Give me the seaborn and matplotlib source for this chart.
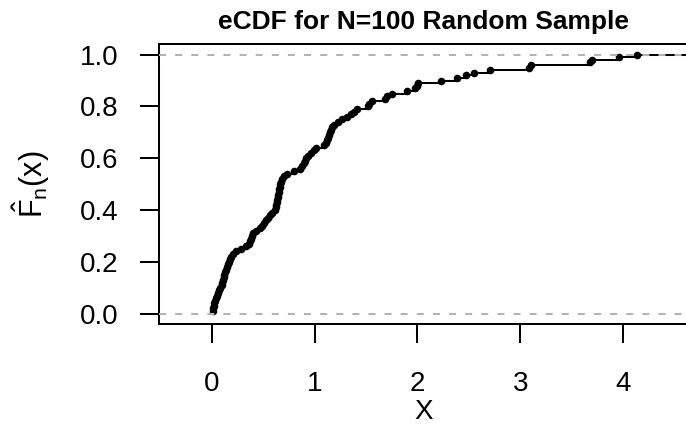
import numpy as np
import pandas as pd
import matplotlib
matplotlib.use("Agg")
import matplotlib.pyplot as plt
import seaborn as sns

# sorted sample values (N = 100)
sample = [
    0.01, 0.015, 0.02, 0.025, 0.035, 0.045, 0.05, 0.06, 0.07, 0.08,
    0.095, 0.10, 0.11, 0.115, 0.12, 0.13, 0.14, 0.15, 0.16, 0.17,
    0.18, 0.19, 0.21, 0.24, 0.28, 0.33, 0.36, 0.37, 0.38, 0.39,
    0.40, 0.43, 0.47, 0.49, 0.51, 0.53, 0.55, 0.57, 0.59, 0.61,
    0.62, 0.625, 0.63, 0.635, 0.64, 0.645, 0.65, 0.655, 0.66, 0.665,
    0.67, 0.68, 0.70, 0.73, 0.80, 0.86, 0.88, 0.90, 0.91, 0.92,
    0.94, 0.96, 0.99, 1.01, 1.09, 1.11, 1.12, 1.13, 1.14, 1.15,
    1.16, 1.17, 1.19, 1.23, 1.27, 1.31, 1.35, 1.38, 1.41, 1.52,
    1.53, 1.56, 1.68, 1.70, 1.75, 1.90, 1.98, 2.00, 2.01, 2.23,
    2.38, 2.47, 2.55, 2.71, 3.08, 3.10, 3.68, 3.70, 3.96, 4.13,
]
x_ticks = [0, 1, 2, 3, 4]
y_ticks = [0.0, 0.2, 0.4, 0.6, 0.8, 1.0]
x_limits = (-0.513, 4.64)
y_limits = (-0.04, 1.04)

sns.set_style("white")
plt.rcParams['font.family'] = ['Liberation Sans', 'DejaVu Sans']
plt.rcParams['text.color'] = 'black'
plt.rcParams['axes.labelcolor'] = 'black'
plt.rcParams['xtick.color'] = 'black'
plt.rcParams['ytick.color'] = 'black'
plt.rcParams['mathtext.fontset'] = 'custom'
plt.rcParams['mathtext.rm'] = 'Liberation Sans'
plt.rcParams['mathtext.it'] = 'Liberation Sans'

df = pd.DataFrame({'x': sample})
df['F'] = np.arange(1, len(df) + 1) / len(df)

fig = plt.figure(figsize=(6.86, 4.24), dpi=100)
ax = fig.add_axes([159 / 686, 100 / 424, 530 / 686, 279.7 / 424])

lw = 1.45
sns.ecdfplot(data=df, x='x', ax=ax, color='black', linewidth=lw)
# extend last step to the right edge
ax.plot([df['x'].max(), x_limits[1] + 1], [1, 1], color='black', lw=lw)
sns.scatterplot(data=df, x='x', y='F', ax=ax, color='black', s=30,
                edgecolor='black', linewidth=0, zorder=3)
for h in [0, 1]:
    ax.axhline(h, color='#b3b3b3', lw=lw, dashes=(3.5, 4.5), zorder=4)

ax.set_xlim(*x_limits)
ax.set_ylim(*y_limits)
ax.set_xticks(x_ticks)
ax.set_yticks(y_ticks)
ax.set_yticklabels([f'{v:.1f}' for v in y_ticks])
ax.tick_params(axis='both', which='major', direction='out', length=14,
               width=1.45, color='black', labelcolor='black', labelsize=20,
               left=True, bottom=True)
ax.tick_params(axis='x', pad=20)
ax.tick_params(axis='y', pad=15)
for s in ax.spines.values():
    s.set_color('black')
    s.set_linewidth(1.45)

ax.set_title('eCDF for N=100 Random Sample', fontsize=19, fontweight='bold',
             pad=11, color='black')
ax.set_xlabel('X', fontsize=20, labelpad=1, color='black')
ax.set_ylabel(r'$\hat{\mathrm{F}}_{\mathrm{n}}\mathrm{(x)}$', fontsize=22,
              labelpad=20, color='black')

fig.savefig('out.png', dpi=100)
